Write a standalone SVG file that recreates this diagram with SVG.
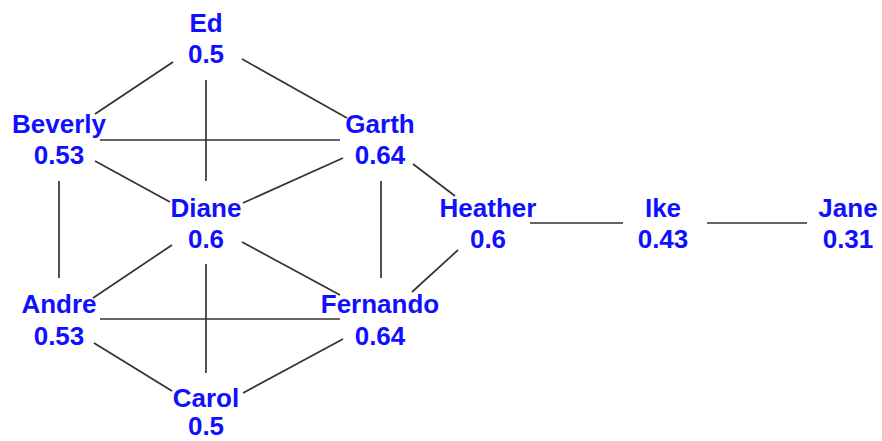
<svg xmlns="http://www.w3.org/2000/svg" width="882" height="441" viewBox="0 0 882 441">
  <style>
    .edge { stroke: #333333; stroke-width: 1.7; fill: none; }
    .lbl { font-family: "Liberation Sans", Arial, sans-serif; font-weight: bold; font-size: 26px; fill: #1010ff; text-anchor: middle; }
  </style>
  <rect width="882" height="441" fill="#ffffff"/>
  <g id="edges">
    <line class="edge" x1="173" y1="62" x2="95" y2="114"/>
    <line class="edge" x1="242" y1="59" x2="347" y2="118"/>
    <line class="edge" x1="206" y1="80" x2="206" y2="181"/>
    <line class="edge" x1="100" y1="140" x2="340" y2="140"/>
    <line class="edge" x1="95" y1="161" x2="170" y2="202"/>
    <line class="edge" x1="343" y1="158" x2="243" y2="203"/>
    <line class="edge" x1="381" y1="181" x2="381" y2="278"/>
    <line class="edge" x1="59" y1="181" x2="59" y2="278"/>
    <line class="edge" x1="413" y1="164" x2="455" y2="196"/>
    <line class="edge" x1="458" y1="250" x2="412" y2="292"/>
    <line class="edge" x1="530" y1="223" x2="623" y2="223"/>
    <line class="edge" x1="707" y1="223" x2="807" y2="223"/>
    <line class="edge" x1="172" y1="245" x2="93" y2="298"/>
    <line class="edge" x1="242" y1="242" x2="340" y2="295"/>
    <line class="edge" x1="206" y1="264" x2="206" y2="373"/>
    <line class="edge" x1="100" y1="319" x2="340" y2="319"/>
    <line class="edge" x1="94" y1="343" x2="172" y2="391"/>
    <line class="edge" x1="343" y1="339" x2="243" y2="393"/>
  </g>
  <g id="ed"><text class="lbl"><tspan x="206" y="32">Ed</tspan><tspan x="206" y="63">0.5</tspan></text></g>
  <g id="beverly"><text class="lbl"><tspan x="59" y="133">Beverly</tspan><tspan x="59" y="164">0.53</tspan></text></g>
  <g id="garth"><text class="lbl"><tspan x="380" y="133">Garth</tspan><tspan x="380" y="164">0.64</tspan></text></g>
  <g id="diane"><text class="lbl"><tspan x="206" y="217">Diane</tspan><tspan x="206" y="248">0.6</tspan></text></g>
  <g id="heather"><text class="lbl"><tspan x="488" y="217">Heather</tspan><tspan x="488" y="248">0.6</tspan></text></g>
  <g id="ike"><text class="lbl"><tspan x="663" y="217">Ike</tspan><tspan x="663" y="248">0.43</tspan></text></g>
  <g id="jane"><text class="lbl"><tspan x="848" y="217">Jane</tspan><tspan x="848" y="248">0.31</tspan></text></g>
  <g id="andre"><text class="lbl"><tspan x="59" y="313">Andre</tspan><tspan x="59" y="345">0.53</tspan></text></g>
  <g id="fernando"><text class="lbl"><tspan x="380" y="313">Fernando</tspan><tspan x="380" y="345">0.64</tspan></text></g>
  <g id="carol"><text class="lbl"><tspan x="206" y="407">Carol</tspan><tspan x="206" y="435">0.5</tspan></text></g>
</svg>
